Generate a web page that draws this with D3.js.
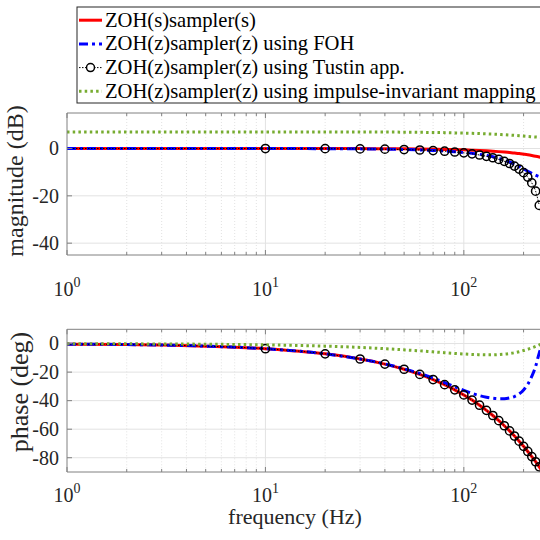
<!DOCTYPE html>
<html><head><meta charset="utf-8">
<script src="https://cdn.jsdelivr.net/npm/d3@7/dist/d3.min.js"></script>
<style>html,body{margin:0;padding:0;background:#fff;}svg{display:block;}</style>
</head><body>
<svg id="c" width="540" height="540"></svg>
<script>
// ---- data ----
const freq = [1,2,5,10,20,30,40,50,60,70,80,90,100,110,120,130,140,150,160,170,180,190,200,210,220,230,240,250];
const zohMag = [0,0,0,-0.01,-0.02,-0.05,-0.09,-0.14,-0.21,-0.28,-0.37,-0.47,-0.58,-0.71,-0.84,-0.99,-1.15,-1.32,-1.51,-1.71,-1.94,-2.16,-2.42,-2.68,-2.97,-3.27,-3.59,-3.92];
const zohPh = [-0.4,-0.7,-1.8,-3.6,-7.2,-10.8,-14.4,-18,-21.6,-25.2,-28.8,-32.4,-36,-39.6,-43.2,-46.8,-50.4,-54,-57.6,-61.2,-64.8,-68.4,-72,-75.6,-79.2,-82.8,-86.4,-90];
const fohMag = [0,0,0,-0.02,-0.07,-0.15,-0.27,-0.42,-0.6,-0.82,-1.08,-1.37,-1.7,-2.06,-2.47,-2.93,-3.5,-4.15,-4.9,-5.7,-6.6,-7.6,-8.6,-9.6,-10.5,-11.3,-11.9,-12.1];
const fohPh = [-0.4,-0.7,-1.8,-3.6,-7.2,-10.8,-14.3,-17.7,-21.0,-24.2,-27.3,-30.2,-32.8,-34.9,-36.5,-37.6,-38.3,-38.6,-38.6,-38.1,-37.1,-35.3,-32.5,-28.5,-23.0,-16.0,-6.5,0];
const impMag = [7.0,7.0,7.0,7.0,7.0,6.98,6.95,6.9,6.84,6.77,6.7,6.6,6.5,6.4,6.3,6.2,6.08,5.95,5.82,5.68,5.54,5.4,5.25,5.1,4.98,4.86,4.76,4.7];
const impPh = [-0.09,-0.18,-0.45,-0.9,-1.8,-2.7,-3.6,-4.4,-5.1,-5.8,-6.4,-6.9,-7.3,-7.6,-7.8,-7.9,-7.9,-7.7,-7.4,-7.0,-6.4,-5.7,-4.9,-4.0,-3.0,-2.0,-0.9,0];
const tustinFreq = [1,2,5,10,20,30,40,50,60,70,80,90,100,110,120,130,140,150,160,170,180,190,200,210,220,230,240];
const tustinMag = [0,0,0,-0.02,-0.07,-0.16,-0.28,-0.44,-0.63,-0.87,-1.15,-1.47,-1.84,-2.26,-2.75,-3.29,-3.91,-4.62,-5.42,-6.34,-7.42,-8.68,-10.2,-12.09,-14.55,-18.04,-24.04];
const tustinPh = [-0.4,-0.7,-1.8,-3.6,-7.2,-10.8,-14.4,-18,-21.6,-25.2,-28.8,-32.4,-36,-39.6,-43.2,-46.8,-50.4,-54,-57.6,-61.2,-64.8,-68.4,-72,-75.6,-79.2,-82.8,-86.4];
const seriesNames = ["ZOH(s)sampler(s)","ZOH(z)sampler(z) using FOH","ZOH(z)sampler(z) using Tustin app.","ZOH(z)sampler(z) using impulse-invariant mapping"];
const xTicks = [1,10,100];
const xTickExp = ["0","1","2"];
const magTicks = [0,-20,-40];
const phTicks = [0,-20,-40,-60,-80];
const magLabel = "magnitude (dB)";
const phLabel = "phase (deg)";
const xLabel = "frequency (Hz)";

// ---- layout ----
const FONT = "'Liberation Serif','Times New Roman',serif";
const svg = d3.select("#c");
const X0 = 67, X1 = 542.8;
const x = d3.scaleLog().domain([1,250]).range([X0, X1]);
const minorX = [];
[1,10,100].forEach(d=>{for(let k=2;k<=9;k++){const v=d*k; if(v<250) minorX.push(v);}});

const styles = [
  {color:"#ff0000", width:3, dash:null},
  {color:"#0000ff", width:3, dash:"9,4,3,4"},
  {color:"#000000", width:1, dash:"1.5,1.5"},
  {color:"#77ac30", width:3, dash:"2.5,3.2"}
];

function panel(id, y, yticks, series, labelText, labelX, labelY, labelSize, xlabBaseline){
  const top = y.range()[1], bot = y.range()[0];
  const g = svg.append("g");
  g.append("clipPath").attr("id","clip"+id).append("rect")
    .attr("x",X0).attr("y",top).attr("width",X1-X0).attr("height",bot-top);
  // grid
  g.selectAll(".mg").data(minorX).join("line")
    .attr("x1",d=>x(d)).attr("x2",d=>x(d)).attr("y1",top).attr("y2",bot)
    .attr("stroke","#dadada").attr("stroke-width",0.8).attr("stroke-dasharray","1,2");
  g.selectAll(".Mg").data(xTicks.slice(1)).join("line")
    .attr("x1",d=>x(d)).attr("x2",d=>x(d)).attr("y1",top).attr("y2",bot)
    .attr("stroke","#e2e2e2").attr("stroke-width",1);
  g.selectAll(".hg").data(yticks).join("line")
    .attr("x1",X0).attr("x2",X1).attr("y1",d=>y(d)).attr("y2",d=>y(d))
    .attr("stroke","#e2e2e2").attr("stroke-width",1);
  // data
  const dg = g.append("g").attr("clip-path","url(#clip"+id+")");
  series.forEach((s,i)=>{
    const st = styles[i];
    const line = d3.line().x((d,j)=>x(s.f[j])).y(d=>y(d)).curve(d3.curveMonotoneX);
    dg.append("path").attr("d",line(s.v)).attr("fill","none")
      .attr("stroke",st.color).attr("stroke-width",st.width)
      .attr("stroke-dasharray",st.dash);
    if(i===2){
      const pts = s.v.map((v,j)=>[s.f[j],v]).filter(p=>p[0]>=10);
      dg.selectAll(".mk").data(pts).join("circle")
        .attr("cx",p=>x(p[0])).attr("cy",p=>y(p[1])).attr("r",4.1)
        .attr("fill","none").attr("stroke","#000").attr("stroke-width",1.5);
    }
  });
  // axes box
  const ax = "#808080";
  g.append("line").attr("x1",X0).attr("x2",X0).attr("y1",top).attr("y2",bot).attr("stroke",ax);
  g.append("line").attr("x1",X0).attr("x2",X1).attr("y1",bot).attr("y2",bot).attr("stroke",ax);
  g.append("line").attr("x1",X0).attr("x2",X1).attr("y1",top).attr("y2",top).attr("stroke",ax);
  // ticks
  xTicks.forEach(d=>{
    g.append("line").attr("x1",x(d)).attr("x2",x(d)).attr("y1",bot).attr("y2",bot-5).attr("stroke",ax);
    g.append("line").attr("x1",x(d)).attr("x2",x(d)).attr("y1",top).attr("y2",top+5).attr("stroke",ax);
  });
  minorX.forEach(d=>{
    g.append("line").attr("x1",x(d)).attr("x2",x(d)).attr("y1",bot).attr("y2",bot-3).attr("stroke",ax);
    g.append("line").attr("x1",x(d)).attr("x2",x(d)).attr("y1",top).attr("y2",top+3).attr("stroke",ax);
  });
  yticks.forEach(d=>{
    g.append("line").attr("x1",X0).attr("x2",X0+5).attr("y1",y(d)).attr("y2",y(d)).attr("stroke",ax);
    g.append("text").attr("x",X0-8).attr("y",y(d)).attr("dy","0.34em")
      .attr("text-anchor","end").attr("font-family",FONT).attr("font-size",20)
      .attr("fill","#262626").text(String(d));
  });
  xTicks.forEach((d,i)=>{
    const t = g.append("text").attr("x",x(d)).attr("y",xlabBaseline)
      .attr("text-anchor","middle").attr("font-family",FONT).attr("font-size",20).attr("fill","#262626");
    t.append("tspan").text("10");
    t.append("tspan").attr("dy",-9).attr("font-size",14).text(xTickExp[i]);
  });
  g.append("text").attr("transform",`translate(${labelX},${labelY}) rotate(-90)`)
    .attr("text-anchor","middle").attr("font-family",FONT).attr("font-size",labelSize)
    .attr("fill","#262626").text(labelText);
}

const yMag = d3.scaleLinear().domain([-45,15]).range([255,113]);
const yPh = d3.scaleLinear().domain([-90,10]).range([472,329.3]);

panel("m", yMag, magTicks, [
  {f:freq, v:zohMag},{f:freq, v:fohMag},{f:tustinFreq, v:tustinMag},{f:freq, v:impMag}
], magLabel, 23, 181, 24, 296);
panel("p", yPh, phTicks, [
  {f:freq, v:zohPh},{f:freq, v:fohPh},{f:tustinFreq, v:tustinPh},{f:freq, v:impPh}
], phLabel, 28, 392, 26, 502);

svg.append("text").attr("x",295).attr("y",524).attr("text-anchor","middle")
  .attr("font-family",FONT).attr("font-size",22).attr("fill","#262626").text(xLabel);

// legend
const lg = svg.append("g");
lg.append("rect").attr("x",77).attr("y",7).attr("width",480).attr("height",96)
  .attr("fill","#fff").attr("stroke","#262626").attr("stroke-width",1);
seriesNames.forEach((name,i)=>{
  const base = 26.7 + i*23.7;
  const ly = base - 6.5;
  const st = styles[i];
  lg.append("line").attr("x1",79).attr("x2",102).attr("y1",ly).attr("y2",ly)
    .attr("stroke",st.color).attr("stroke-width",st.width).attr("stroke-dasharray",st.dash);
  if(i===2) lg.append("circle").attr("cx",90.5).attr("cy",ly).attr("r",4)
    .attr("fill","#fff").attr("stroke","#000").attr("stroke-width",1.5);
  lg.append("text").attr("x",105).attr("y",base).attr("font-family",FONT)
    .attr("font-size",20.6).attr("fill","#000").text(name);
});
</script>
</body></html>
